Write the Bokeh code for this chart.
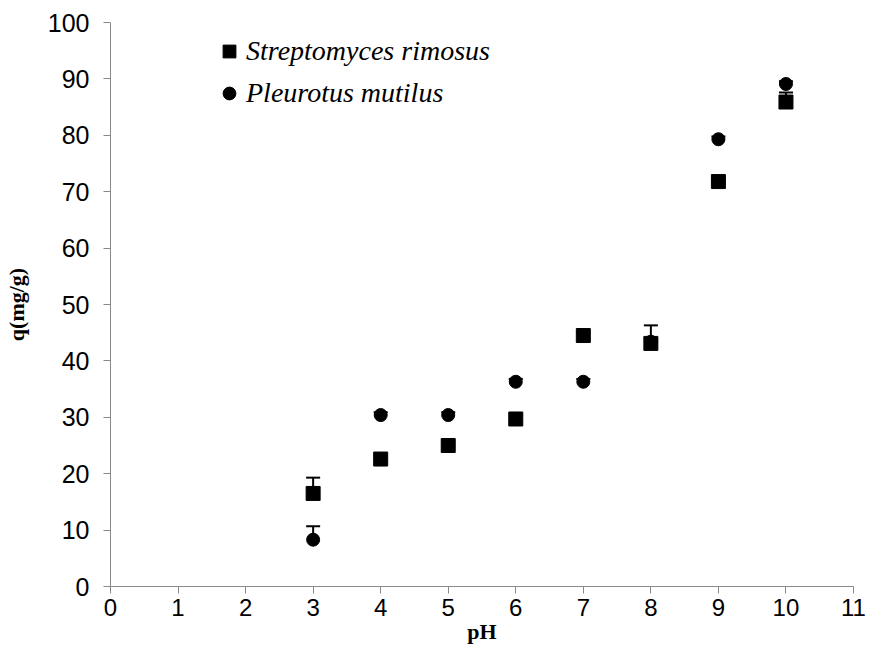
from bokeh.plotting import figure
from bokeh.models import Range1d, Whisker, ColumnDataSource, Legend, LegendItem, FixedTicker, TeeHead
from bokeh.embed import file_html
from bokeh.resources import INLINE

ph = [3, 4, 5, 6, 7, 8, 9, 10]
strepto = [16.5, 22.6, 25.0, 29.7, 44.5, 43.1, 71.8, 85.9]
strepto_err = [2.8, 0.5, 0.5, 0.5, 0.5, 3.2, 0.5, 1.7]
pleuro = [8.3, 30.4, 30.4, 36.3, 36.3, 43.4, 79.3, 89.1]
pleuro_err = [2.4, 0.5, 0.5, 0.5, 0.5, 0.5, 0.5, 0.5]
x_ticks = list(range(0, 12))
y_ticks = list(range(0, 101, 10))

s1 = ColumnDataSource(dict(x=ph, y=strepto, up=[a + b for a, b in zip(strepto, strepto_err)]))
s2 = ColumnDataSource(dict(x=ph, y=pleuro, up=[a + b for a, b in zip(pleuro, pleuro_err)]))

p = figure(width=877, height=670, output_backend="svg", toolbar_location=None,
           x_range=Range1d(0, 11), y_range=Range1d(0, 100),
           min_border_left=110, min_border_right=24, min_border_top=22, min_border_bottom=84)
p.outline_line_color = None
p.xgrid.visible = False
p.ygrid.visible = False

for ax in (p.xaxis[0], p.yaxis[0]):
    ax.axis_line_color = "#898989"
    ax.major_tick_line_color = "#898989"
    ax.minor_tick_line_color = None
    ax.major_tick_in = 0
    ax.major_tick_out = 7
    ax.major_label_text_font = "Liberation Sans"
    ax.major_label_text_color = "black"
    ax.axis_label_text_font = "Liberation Serif"
    ax.axis_label_text_font_style = "bold"
    ax.axis_label_text_font_size = "22px"
    ax.axis_label_text_color = "black"

p.xaxis.major_label_text_font_size = "24px"
p.yaxis.major_label_text_font_size = "25px"
p.xaxis.ticker = FixedTicker(ticks=x_ticks)
p.yaxis.ticker = FixedTicker(ticks=y_ticks)
p.xaxis.axis_label = "pH"
p.yaxis.axis_label = "q(mg/g)"
p.xaxis.major_label_standoff = 5
p.yaxis.major_label_standoff = 14
p.xaxis.axis_label_standoff = 0
p.yaxis.axis_label_standoff = 16

w1 = Whisker(source=s1, base="x", upper="up", lower="y", dimension="height",
             line_color="black", line_width=2,
             upper_head=TeeHead(size=14, line_width=2, line_color="black"), lower_head=None)
w2 = Whisker(source=s2, base="x", upper="up", lower="y", dimension="height",
             line_color="black", line_width=2,
             upper_head=TeeHead(size=14, line_width=2, line_color="black"), lower_head=None)
p.add_layout(w2)
p.add_layout(w1)

r2 = p.scatter("x", "y", source=s2, marker="circle", size=13, color="black")
r1 = p.scatter("x", "y", source=s1, marker="square", size=14, color="black")

legend = Legend(items=[LegendItem(label="Streptomyces rimosus", renderers=[r1]),
                       LegendItem(label="Pleurotus mutilus", renderers=[r2])],
                location=(103, 477), orientation="vertical")
legend.border_line_color = None
legend.background_fill_alpha = 0
legend.label_text_font = "Liberation Serif"
legend.label_text_font_style = "italic"
legend.label_text_font_size = "28px"
legend.label_text_color = "black"
legend.glyph_width = 32
legend.glyph_height = 32
legend.label_standoff = 1
legend.spacing = 10
legend.padding = 0
legend.margin = 0
p.add_layout(legend)

open("out.html", "w").write(file_html(p, INLINE))
